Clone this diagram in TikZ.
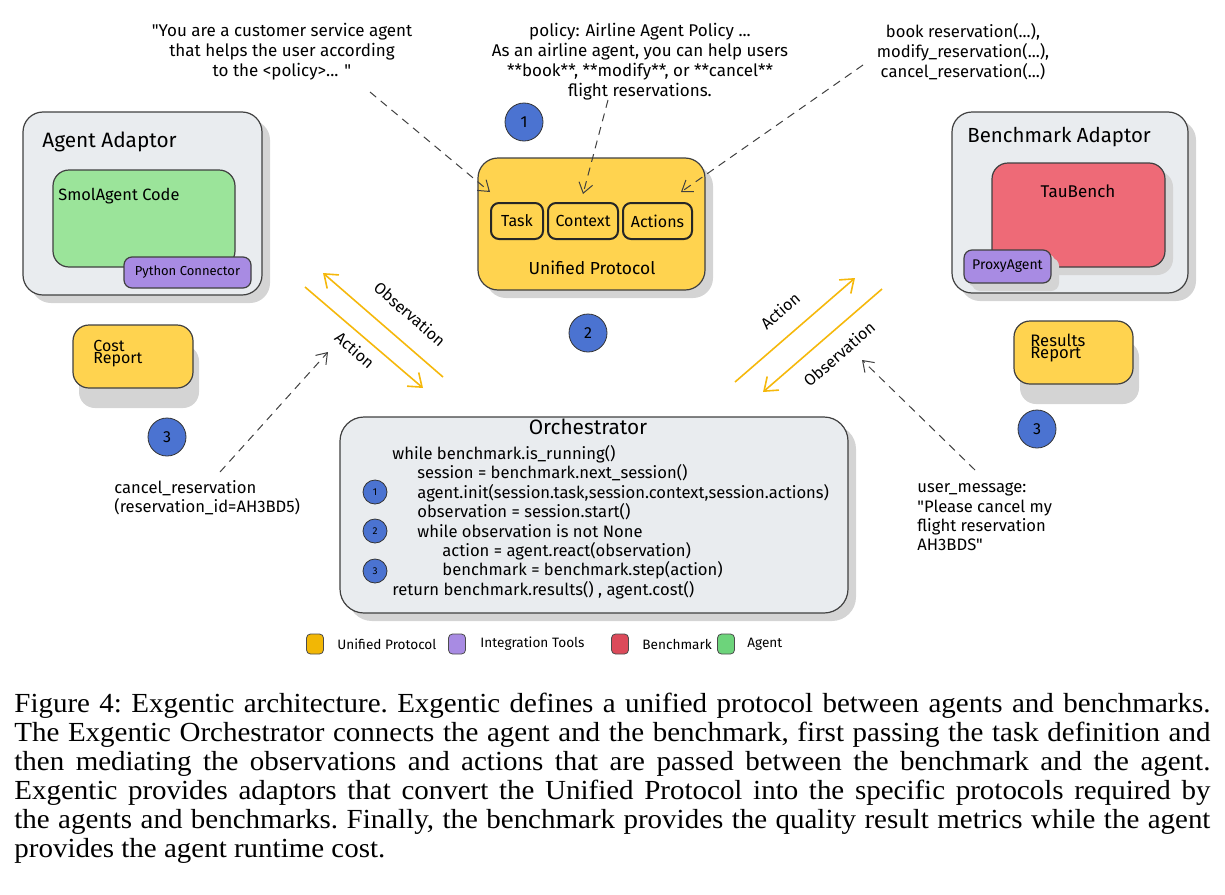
\documentclass[tikz,border=0pt]{standalone}
\usepackage{fontspec}
\setmainfont{Liberation Serif}
\newfontfamily\hand{Fira Sans}
\newfontfamily\capfont[FakeStretch=1.05]{Liberation Serif}
\usetikzlibrary{arrows.meta,shadows}

\definecolor{adaptgray}{HTML}{E9ECEF}
\definecolor{shadowgray}{HTML}{D4D4D4}
\definecolor{protoyellow}{HTML}{FFD34F}
\definecolor{keyyellow}{HTML}{F2B705}
\definecolor{agentgreen}{HTML}{9BE49A}
\definecolor{keygreen}{HTML}{6DD47B}
\definecolor{benchred}{HTML}{EE6A77}
\definecolor{keyred}{HTML}{DC4A5A}
\definecolor{toolpurple}{HTML}{A88BE3}
\definecolor{numblue}{HTML}{4B73D1}
\definecolor{flowyellow}{HTML}{F5B80C}

\tikzset{
	box/.style={draw=black!75, line width=0.6pt, rounded corners=8pt, inner sep=0pt},
	shbox/.style={box, drop shadow={shadow xshift=4pt, shadow yshift=-4pt, fill=shadowgray, opacity=1}},
	field/.style={draw=black!85, line width=1pt, rounded corners=4pt, minimum height=18pt, inner sep=0pt, font=\hand\fontsize{8}{10}\selectfont},
	txt/.style={font=\hand\fontsize{8.5}{10}\selectfont, align=center, inner sep=0pt},
	note/.style={font=\hand\fontsize{8.3}{9.7}\selectfont, align=left, inner sep=0pt},
	title/.style={font=\hand\fontsize{10.4}{12}\selectfont, inner sep=0pt},
	numdot/.style={circle, draw=black!80, fill=numblue, minimum size=19pt, inner sep=0pt, font=\hand\fontsize{8}{8}\selectfont},
	smalldot/.style={numdot, minimum size=12pt, font=\hand\fontsize{5}{5}\selectfont},
	keybox/.style={draw=black!70, rounded corners=2pt, minimum width=8.5pt, minimum height=10pt, inner sep=0pt},
	keytxt/.style={font=\hand\fontsize{6.8}{8}\selectfont, anchor=west, inner sep=0pt},
	flowarr/.style={draw=flowyellow, line width=0.8pt, -{Straight Barb[length=6pt,width=9pt]}},
	flowlbl/.style={font=\hand\fontsize{8}{10}\selectfont, inner sep=0pt},
	dasharr/.style={draw=black!75, line width=0.5pt, dash pattern=on 4pt off 3pt, -{Straight Barb[length=5pt,width=7pt]}}
}

\begin{document}
\begin{tikzpicture}[x=0.5pt, y=-0.5pt]
	\useasboundingbox (0,0) rectangle (1225,894);

	\node[txt] (sysp) at (282,52) {"You are a customer service agent\\that helps the user according\\to the <policy>... "};
	\node[txt] (policy) at (640,62) {policy: Airline Agent Policy ...\\As an airline agent, you can help users\\**book**, **modify**, or **cancel**\\flight reservations.};
	\node[txt, font=\hand\fontsize{8.3}{10}\selectfont] (funcs) at (963,52) {book reservation(...),\\modify\_reservation(...),\\cancel\_reservation(...)};

	\node[shbox, fill=adaptgray, minimum width=119.5pt, minimum height=91.5pt, rounded corners=10pt] (agentad) at (142.5,203.5) {};
	\node[title, anchor=west] (agenttl) at (42,142) {Agent Adaptor};
	\node[box, fill=agentgreen, minimum width=91pt, minimum height=48.5pt] (smol) at (144,218.5) {};
	\node[txt, anchor=west, font=\hand\fontsize{8.2}{10}\selectfont] (smoltl) at (58,196) {SmolAgent Code};
	\node[box, fill=toolpurple, minimum width=63.5pt, minimum height=15.5pt, rounded corners=4pt, font=\hand\fontsize{6.5}{8}\selectfont] (pyconn) at (187.5,272.5) {Python Connector};

	\node[shbox, fill=protoyellow, minimum width=113.5pt, minimum height=66pt, rounded corners=10pt] (proto) at (591.5,224) {};
	\foreach \nm/\tx/\cx/\w in {task/Task/517/26, context/Context/583/35, actions/Actions/657.5/34.5}
		\node[field, minimum width=\w pt] (\nm) at (\cx,221) {\tx};
	\node[txt, font=\hand\fontsize{8.7}{10}\selectfont] (prototl) at (592,268) {Unified Protocol};

	\node[shbox, fill=adaptgray, minimum width=118pt, minimum height=90.5pt, rounded corners=10pt] (benchad) at (1070,202.5) {};
	\node[title, font=\hand\fontsize{10.2}{12}\selectfont, anchor=west] (benchtl) at (967,137) {Benchmark Adaptor};
	\node[shbox, fill=benchred, minimum width=86.5pt, minimum height=52pt] (tau) at (1078.5,215) {};
	\node[txt] (tautl) at (1078,191) {TauBench};
	\node[shbox, fill=toolpurple, minimum width=43.5pt, minimum height=16.5pt, rounded corners=4pt, font=\hand\fontsize{7}{8}\selectfont, drop shadow={shadow xshift=2pt, shadow yshift=-2pt, fill=shadowgray, opacity=1}] (proxy) at (1007.5,266.5) {ProxyAgent};

	\node[box, fill=protoyellow, minimum width=60pt, minimum height=31.5pt, drop shadow={shadow xshift=3pt, shadow yshift=-10pt, fill=shadowgray, opacity=1}] (cost) at (133,356.5) {};
	\node[txt, anchor=north west, align=left, font=\hand\fontsize{8}{6}\selectfont] (costtl) at (93,340) {Cost\\Report};
	\node[box, fill=protoyellow, minimum width=59.5pt, minimum height=31.5pt, drop shadow={shadow xshift=3pt, shadow yshift=-10pt, fill=shadowgray, opacity=1}] (results) at (1073.5,352.5) {};
	\node[txt, anchor=north west, align=left, font=\hand\fontsize{8.3}{6}\selectfont] (resultstl) at (1030,334) {Results\\Report};

	\node[numdot] (n1) at (524,122) {1};
	\node[numdot] (n2) at (588,333) {2};
	\node[numdot] (n3l) at (167,437) {3};
	\node[numdot] (n3r) at (1037,429) {3};

	\node[shbox, fill=adaptgray, minimum width=254pt, minimum height=98pt, rounded corners=12pt] (orch) at (594,515) {};
	\node[title] (orchtl) at (588,427) {Orchestrator};
	\node[note, anchor=north west] (code) at (392,445) {while benchmark.is\_running()\\
		\hspace*{12.5pt}session = benchmark.next\_session()\\
		\hspace*{12.5pt}agent.init(session.task,session.context,session.actions)\\
		\hspace*{12.5pt}observation = session.start()\\
		\hspace*{12.5pt}while observation is not None\\
		\hspace*{25pt}action = agent.react(observation)\\
		\hspace*{25pt}benchmark = benchmark.step(action)\\
		return benchmark.results() , agent.cost()};
	\node[smalldot] (s1) at (375,492) {1};
	\node[smalldot] (s2) at (375,531) {2};
	\node[smalldot] (s3) at (375,571) {3};

	\node[note] (callmsg) [anchor=west] at (114,498) {cancel\_reservation\\(reservation\_id=AH3BD5)};
	\node[note] (usermsg) [anchor=west] at (917,517) {user\_message:\\"Please cancel my\\flight reservation\\AH3BDS"};

	\coordinate (lobs0) at (443,377);
	\coordinate (lobs1) at (323,273);
	\coordinate (lact0) at (305,287);
	\coordinate (lact1) at (423,388);
	\coordinate (ract0) at (735,382);
	\coordinate (ract1) at (855,278);
	\coordinate (robs0) at (882,289);
	\coordinate (robs1) at (763,392);
	\draw[flowarr] (lobs0) -- (lobs1);
	\draw[flowarr] (lact0) -- (lact1);
	\draw[flowarr] (ract0) -- (ract1);
	\draw[flowarr] (robs0) -- (robs1);
	\node[flowlbl, rotate=-41] (lobstx) at (410,314) {Observation};
	\node[flowlbl, rotate=-41] (lacttx) at (355,350) {Action};
	\node[flowlbl, rotate=41] (racttx) at (780,311) {Action};
	\node[flowlbl, rotate=41] (robstx) at (839,354) {Observation};

	\coordinate (d1) at (370,92);
	\coordinate (d2) at (608,100);
	\coordinate (d3) at (863,65);
	\coordinate (d4) at (220,472);
	\coordinate (d4e) at (328,352);
	\coordinate (d5) at (975,470);
	\coordinate (d5e) at (862,360);
	\draw[dasharr] (d1) -- ([yshift=5pt]task.north west);
	\draw[dasharr] (d2) -- ([yshift=4pt]context.north);
	\draw[dasharr] (d3) -- ([xshift=-6pt,yshift=5pt]actions.north east);
	\draw[dasharr] (d4) -- (d4e);
	\draw[dasharr] (d5) -- (d5e);

	\node[keybox, fill=keyyellow] (k1) at (315,644) {};
	\node[keytxt] (k1t) at (337,644) {Unified Protocol};
	\node[keybox, fill=toolpurple] (k2) at (457,644) {};
	\node[keytxt] (k2t) at (480,644) {Integration Tools};
	\node[keybox, fill=keyred] (k3) at (620,644) {};
	\node[keytxt] (k3t) at (642,644) {Benchmark};
	\node[keybox, fill=keygreen] (k4) at (726,644) {};
	\node[keytxt] (k4t) at (747,644) {Agent};

	\node[anchor=north west, text width=598pt, align=justify, inner sep=0pt, font=\capfont\fontsize{13.8}{14.5}\selectfont\frenchspacing] (caption) at (14,693) {Figure 4: Exgentic architecture. Exgentic defines a unified protocol between agents and benchmarks.\linebreak
		The Exgentic Orchestrator connects the agent and the benchmark, first passing the task definition and\linebreak
		then mediating the observations and actions that are passed between the benchmark and the agent.\linebreak
		Exgentic provides adaptors that convert the Unified Protocol into the specific protocols required by\linebreak
		the agents and benchmarks. Finally, the benchmark provides the quality result metrics while the agent\linebreak
		provides the agent runtime cost.};
\end{tikzpicture}
\end{document}
